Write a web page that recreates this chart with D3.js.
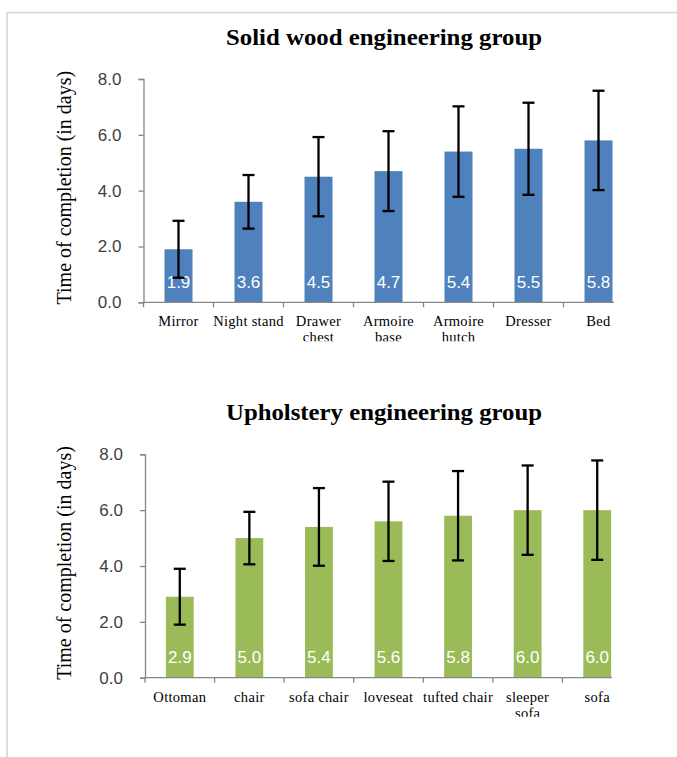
<!DOCTYPE html>
<html>
<head>
<meta charset="utf-8">
<script src="https://cdn.jsdelivr.net/npm/d3@7"></script>
<style>
  body { margin: 0; background: #fff; }
  svg { display: block; }
  .title { font-family: "Liberation Serif", serif; font-weight: bold; font-size: 23px; fill: #000; }
  .y-label { font-family: "Liberation Serif", serif; font-size: 20px; fill: #000; }
  .y-axis text { font-family: "Liberation Sans", sans-serif; font-size: 17px; fill: #404040; }
  .cat-label { font-family: "Liberation Serif", serif; font-size: 14.5px; letter-spacing: 0.3px; fill: #000; }
  .bar-label { font-family: "Liberation Sans", sans-serif; font-size: 17px; fill: #fff; }
  .axis-line { stroke: #868686; stroke-width: 1.3; }
  .err { stroke: #000; stroke-width: 2.3; }
</style>
</head>
<body>
<div id="chart"></div>
<script>
// Solid wood engineering group
const solidCategories = ["Mirror", "Night stand", "Drawer\nchest", "Armoire\nbase", "Armoire\nhutch", "Dresser", "Bed"]
const solidMeans = [1.9, 3.6, 4.5, 4.7, 5.4, 5.5, 5.8]
const solidErrors = [1.02, 0.96, 1.42, 1.43, 1.62, 1.65, 1.78]

// Upholstery engineering group
const uphCategories = ["Ottoman", "chair", "sofa chair", "loveseat", "tufted chair", "sleeper\nsofa", "sofa"]
const uphMeans = [2.9, 5.0, 5.4, 5.6, 5.8, 6.0, 6.0]
const uphErrors = [1.0, 0.94, 1.39, 1.42, 1.6, 1.6, 1.78]

const yTicks = [0, 2, 4, 6, 8]

const width = 677
const height = 757

const svg = d3.select("#chart").append("svg")
    .attr("width", width)
    .attr("height", height)

// outer frame (runs off the right and bottom edges)
svg.append("path")
    .attr("d", `M7,${height + 5}V12.5H${width + 5}`)
    .attr("fill", "none")
    .attr("stroke", "#d4d4d4")
    .attr("stroke-width", 1.6)

const panels = [
  { title: "Solid wood engineering group", cats: solidCategories, means: solidMeans, errs: solidErrors,
    color: "#4f81bd", top: 79, bottom: 302.3, left: 143.5, right: 633.5, axisEnd: 614, id: "solid" },
  { title: "Upholstery engineering group", cats: uphCategories, means: uphMeans, errs: uphErrors,
    color: "#9bbb59", top: 454.3, bottom: 677.7, left: 145, right: 632, axisEnd: 612, id: "uph" }
]

panels.forEach(p => {
  const g = svg.append("g")

  const x = d3.scaleBand()
    .domain(p.cats)
    .range([p.left, p.right])
    .paddingInner(0.6)
    .paddingOuter(0.3)
  const step = x.step()

  const y = d3.scaleLinear()
    .domain([0, 8])
    .range([p.bottom, p.top])

  // title
  g.append("text")
      .attr("class", "title")
      .attr("x", 384)
      .attr("y", p.top - 34)
      .attr("text-anchor", "middle")
      .attr("textLength", 316)
      .attr("lengthAdjust", "spacingAndGlyphs")
      .text(p.title)

  // y axis label
  g.append("text")
      .attr("class", "y-label")
      .attr("transform", `translate(71,${(p.top + p.bottom) / 2 - 3}) rotate(-90)`)
      .attr("text-anchor", "middle")
      .text("Time of completion (in days)")

  // bars
  g.selectAll(".bar")
    .data(p.means)
    .join("rect")
      .attr("class", "bar")
      .attr("x", (d, i) => x(p.cats[i]))
      .attr("y", d => y(d))
      .attr("width", x.bandwidth())
      .attr("height", d => y(0) - y(d))
      .attr("fill", p.color)

  // value labels inside bars
  g.selectAll(".bar-label")
    .data(p.means)
    .join("text")
      .attr("class", "bar-label")
      .attr("x", (d, i) => x(p.cats[i]) + x.bandwidth() / 2)
      .attr("y", y(0) - 14.5)
      .attr("text-anchor", "middle")
      .text(d => d.toFixed(1))

  // error bars
  const center = i => x(p.cats[i]) + x.bandwidth() / 2
  const errG = g.selectAll(".err-g")
    .data(p.means)
    .join("g")
      .attr("class", "err-g")
  errG.append("line")
      .attr("class", "err")
      .attr("x1", (d, i) => center(i))
      .attr("x2", (d, i) => center(i))
      .attr("y1", (d, i) => y(d + p.errs[i]))
      .attr("y2", (d, i) => y(d - p.errs[i]))
  errG.append("line")
      .attr("class", "err")
      .attr("x1", (d, i) => center(i) - 6)
      .attr("x2", (d, i) => center(i) + 6)
      .attr("y1", (d, i) => y(d + p.errs[i]))
      .attr("y2", (d, i) => y(d + p.errs[i]))
  errG.append("line")
      .attr("class", "err")
      .attr("x1", (d, i) => center(i) - 6)
      .attr("x2", (d, i) => center(i) + 6)
      .attr("y1", (d, i) => y(d - p.errs[i]))
      .attr("y2", (d, i) => y(d - p.errs[i]))

  // y axis
  const yAxis = g.append("g")
      .attr("class", "y-axis")
      .attr("transform", `translate(${p.left},0)`)
      .call(d3.axisLeft(y).tickValues(yTicks).tickFormat(d3.format(".1f")).tickSize(5).tickPadding(17))
  yAxis.selectAll("line, path").attr("stroke", "#868686").attr("stroke-width", 1.3)

  // x axis line and category ticks
  g.append("line")
      .attr("class", "axis-line")
      .attr("x1", p.left)
      .attr("x2", p.axisEnd)
      .attr("y1", y(0))
      .attr("y2", y(0))
  g.selectAll(".x-tick")
    .data(p.cats)
    .join("line")
      .attr("class", "axis-line x-tick")
      .attr("x1", d => x(d) - step * 0.3)
      .attr("x2", d => x(d) - step * 0.3)
      .attr("y1", y(0))
      .attr("y2", y(0) + 5)

  // category labels, second line cut off like the original
  const clipId = `clip-${p.id}`
  svg.append("clipPath")
      .attr("id", clipId)
    .append("rect")
      .attr("x", 0)
      .attr("y", y(0))
      .attr("width", width)
      .attr("height", 39)
  const labels = g.append("g")
      .attr("clip-path", `url(#${clipId})`)
  labels.selectAll(".cat-label")
    .data(p.cats)
    .join("text")
      .attr("class", "cat-label")
      .attr("x", d => x(d) + x.bandwidth() / 2)
      .attr("y", y(0) + 24)
      .attr("text-anchor", "middle")
      .each(function (d) {
        d.split("\n").forEach((line, k) => {
          d3.select(this).append("tspan")
              .attr("x", x(d) + x.bandwidth() / 2)
              .attr("dy", k === 0 ? 0 : 16)
              .text(line)
        })
      })
})
</script>
</body>
</html>
